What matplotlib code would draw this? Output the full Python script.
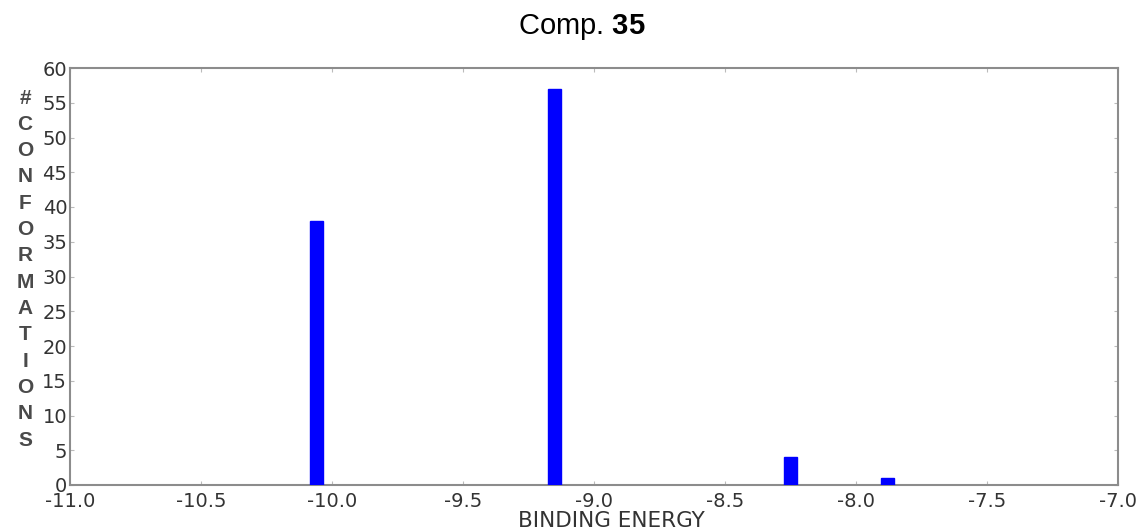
import matplotlib
matplotlib.use("Agg")
import matplotlib.pyplot as plt

# binding energy of each cluster and number of conformations in it
energies = [-10.06, -9.15, -8.25, -7.88]
counts = [38, 57, 4, 1]
bar_width = 0.05

x_ticks = [-11.0, -10.5, -10.0, -9.5, -9.0, -8.5, -8.0, -7.5, -7.0]
y_ticks = list(range(0, 61, 5))
ylabel_letters = "#CONFORMATIONS"

plt.rcParams["font.family"] = ["DejaVu Sans"]
plt.rcParams["mathtext.fontset"] = "custom"
plt.rcParams["mathtext.rm"] = "Liberation Sans"
plt.rcParams["mathtext.bf"] = "Liberation Sans:bold"

SPINE = "#8c8c8c"
TEXT = "#333333"

W, H = 1142, 531
fig = plt.figure(figsize=(W / 100, H / 100), dpi=100)
ax = fig.add_axes([70 / W, 1 - 485 / H, 1048 / W, 417 / H])

ax.bar(energies, counts, width=bar_width, color="#0000ff", edgecolor="#0000ff", zorder=3)

ax.set_xlim(-11.0, -7.0)
ax.set_ylim(0, 60)
ax.set_xticks(x_ticks)
ax.set_xticklabels([f"{t:.1f}" for t in x_ticks])
ax.set_yticks(y_ticks)
ax.tick_params(direction="in", length=3, width=0.8, color="#bbbbbb",
               labelsize=14, labelcolor=TEXT, right=True, top=True)
ax.tick_params(axis="x", pad=5)
ax.tick_params(axis="y", pad=2)
for s in ax.spines.values():
    s.set_color(SPINE)
    s.set_linewidth(1.5)

ax.set_xlabel("BINDING ENERGY", fontsize=15.5, color=TEXT, va="center")
ax.xaxis.set_label_coords(0.517, -0.086)

# vertical stacked letter label, one letter per line
n = len(ylabel_letters)
y_top, y_bot = 98, 440
for i, ch in enumerate(ylabel_letters):
    y = y_top + (y_bot - y_top) * i / (n - 1)
    fig.text(25 / W, 1 - y / H, ch, ha="center", va="center",
             fontsize=15, fontweight="bold", color="#4a4a4a",
             family="Liberation Sans")

fig.text(582 / W, 1 - 27 / H, r"Comp. $\mathbf{35}$", ha="center", va="center",
         fontsize=21, color="black", family="Liberation Sans")

fig.savefig("out.png", dpi=100)
plt.close(fig)
